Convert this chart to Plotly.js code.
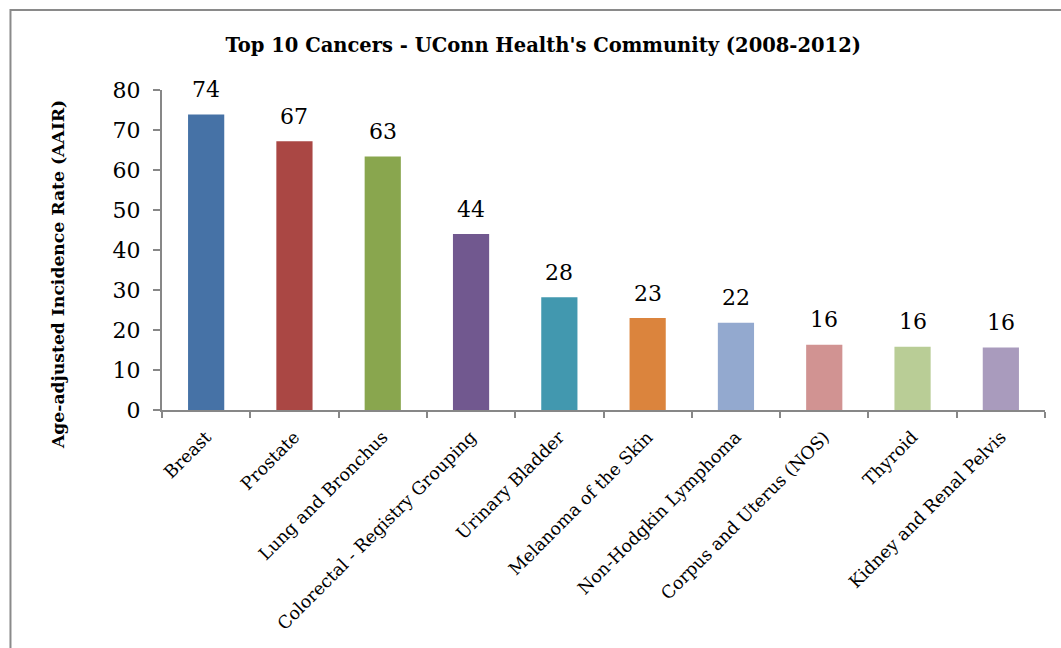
<!DOCTYPE html>
<html>
<head>
<meta charset="utf-8">
<script src="https://cdn.plot.ly/plotly-3.0.1.min.js"></script>
<style>
  html, body { margin: 0; padding: 0; background: #fff; }
  #chart { width: 1061px; height: 648px; }
</style>
</head>
<body>
<div id="chart"></div>
<script>
// Top 10 cancers, age-adjusted incidence rate
const cancers = [
    'Breast', 'Prostate', 'Lung and Bronchus', 'Colorectal - Registry Grouping',
    'Urinary Bladder', 'Melanoma of the Skin', 'Non-Hodgkin Lymphoma',
    'Corpus and Uterus (NOS)', 'Thyroid', 'Kidney and Renal Pelvis'
];
const aair = [73.9, 67.2, 63.4, 44.0, 28.2, 23.0, 21.8, 16.3, 15.8, 15.6];
const barColors = [
    '#4672A6', '#AA4744', '#89A64E', '#71588F', '#4298AF',
    '#DB843D', '#93A9CF', '#D19392', '#B9CD96', '#A99BBD'
];
const yTicks = [0, 10, 20, 30, 40, 50, 60, 70, 80];

const serif = 'DejaVu Serif, Liberation Serif, serif';
const axisGray = '#878787';

let data = [{
    type: 'bar',
    x: cancers,
    y: aair,
    marker: {color: barColors},
    hoverinfo: 'x+y'
}];

// value labels above the bars
let labels = cancers.map((c, i) => ({
    x: c,
    y: aair[i],
    xref: 'x',
    yref: 'y',
    text: aair[i].toFixed(0),
    showarrow: false,
    yanchor: 'middle',
    yshift: 25,
    font: {family: serif, size: 22, color: '#000'}
}));

labels.push({
    xref: 'paper',
    yref: 'paper',
    x: -0.1178,
    y: 0.425,
    text: '<b>Age-adjusted Incidence Rate (AAIR)</b>',
    textangle: -90,
    showarrow: false,
    xanchor: 'center',
    yanchor: 'middle',
    font: {family: serif, size: 17.2, color: '#000'}
});

var layout = {
    width: 1061,
    height: 648,
    margin: {l: 162, r: 16, t: 90, b: 238},
    paper_bgcolor: '#fff',
    plot_bgcolor: '#fff',
    showlegend: false,
    bargap: 0.59,
    title: {
        text: "<b>Top 10 Cancers - UConn Health's Community (2008-2012)</b>",
        x: 0.512,
        xanchor: 'center',
        y: 0.9306,
        yanchor: 'middle',
        font: {family: serif, size: 19.5, color: '#000'}
    },
    xaxis: {
        type: 'category',
        tickangle: -45,
        tickson: 'boundaries',
        ticks: 'outside',
        ticklen: 6,
        tickwidth: 2,
        tickcolor: axisGray,
        showline: true,
        linecolor: axisGray,
        linewidth: 2,
        showgrid: false,
        ticklabelstandoff: 8,
        tickfont: {family: serif, size: 17.5, color: '#000'}
    },
    yaxis: {
        range: [0, 80],
        tickvals: yTicks,
        ticks: 'outside',
        ticklen: 7,
        tickwidth: 2,
        tickcolor: axisGray,
        showline: true,
        linecolor: axisGray,
        linewidth: 2,
        showgrid: false,
        zeroline: false,
        ticklabelstandoff: 8,
        tickfont: {family: serif, size: 22, color: '#000'}
    },
    annotations: labels,
    shapes: [{
        // outer chart frame (only top and left edges are in view)
        type: 'rect',
        xref: 'paper',
        yref: 'paper',
        x0: -0.1716,
        x1: 1.05,
        y0: -0.8,
        y1: 1.25,
        line: {color: '#8a8a8a', width: 2}
    }]
};

Plotly.newPlot('chart', data, layout, {displayModeBar: false, staticPlot: true});
</script>
</body>
</html>
